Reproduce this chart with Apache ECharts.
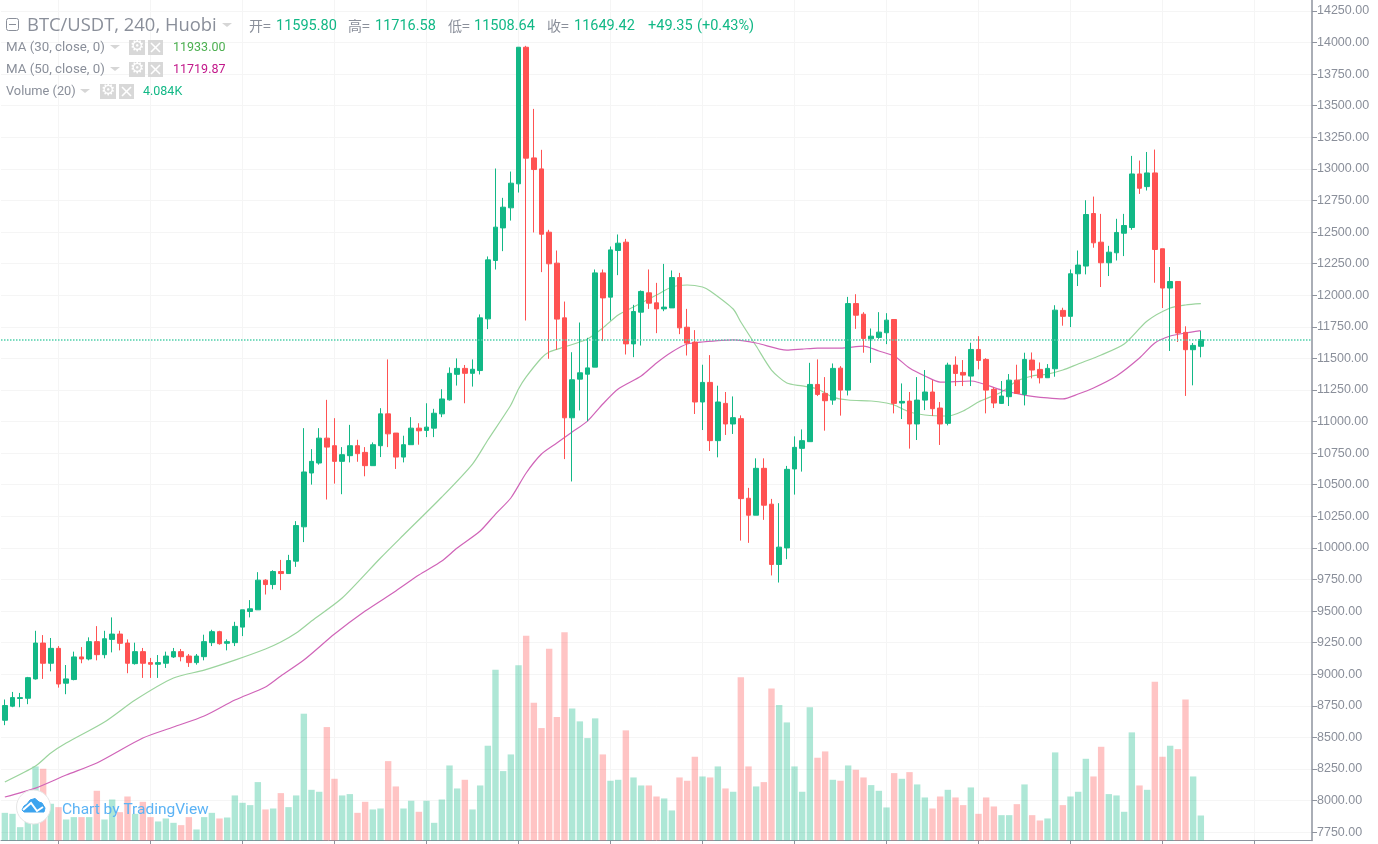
<!DOCTYPE html>
<html>
<head>
<meta charset="utf-8">
<title>BTC/USDT</title>
<script src="https://cdn.jsdelivr.net/npm/echarts@6/dist/echarts.min.js"></script>
<style>
  html, body { margin: 0; padding: 0; background: #fff; overflow: hidden; }
  #main { width: 1378px; height: 844px; }
</style>
</head>
<body>
<div id="main"></div>
<script>
// 4h candles
const opens = [
  8636,8747,8808,8810,8963,9247,9087,9205,8929,8958,
  9137,9121,9258,9155,9276,9318,9247,9084,9179,9092,
  9079,9087,9137,9179,9144,9092,9139,9250,9337,9245,
  9250,9373,9497,9510,9745,9710,9813,9797,9895,10167,
  10593,10672,10869,10809,10685,10730,10809,10756,10651,10809,
  11061,10909,10719,10817,10948,10930,10948,11061,11172,11374,
  11421,11382,11404,11813,12275,12533,12692,12882,13963,13087,
  13000,12499,12254,11821,11030,11336,11375,11431,12177,11985,
  12354,12420,11615,11866,12019,11940,11892,11900,12140,11747,
  11629,11155,11310,10849,11144,10981,11023,10393,10259,10630,
  10346,9869,10000,10625,10788,10841,11294,11223,11170,11423,
  11249,11934,11850,11655,11666,11703,11808,11147,11162,10981,
  11170,11234,11107,10986,11447,11389,11360,11571,11492,11255,
  11144,11197,11328,11215,11487,11413,11347,11418,11880,11833,
  12170,12231,12647,12420,12257,12336,12491,12536,12960,12860,
  12968,12368,12057,12109,11706,11569,11595.80
];
const closes = [
  8752,8815,8815,8973,9247,9087,9205,8923,8963,9137,
  9121,9258,9155,9281,9318,9245,9087,9179,9087,9079,
  9092,9144,9179,9139,9092,9144,9258,9337,9242,9258,
  9379,9510,9518,9745,9710,9813,9797,9900,10177,10601,
  10685,10869,10798,10685,10738,10809,10746,10651,10817,11061,
  10903,10719,10817,10948,10927,10956,11066,11179,11382,11421,
  11382,11414,11821,12280,12539,12697,12887,13963,13085,12995,
  12483,12249,11811,11030,11331,11386,11425,12177,11979,12359,
  12412,11615,11871,12030,11937,11892,11906,12140,11742,11621,
  11155,11310,10849,11155,10981,11031,10390,10259,10630,10338,
  9869,10006,10622,10796,10849,11294,11215,11165,11421,11249,
  11934,11842,11658,11676,11708,11803,11144,11160,10981,11170,
  11234,11102,10981,11447,11381,11368,11571,11484,11249,11147,
  11202,11328,11223,11492,11408,11347,11421,11882,11833,12170,
  12239,12639,12415,12257,12341,12497,12552,12960,12847,12968,
  12362,12057,12109,11701,11569,11603,11649.42
];
const lows = [
  8597,8739,8739,8763,8958,8963,9023,8894,8842,8952,
  9087,9110,9110,9126,9173,9189,9008,9076,8971,8971,
  8971,9050,9129,9102,9058,9076,9110,9223,9234,9189,
  9223,9302,9450,9510,9631,9673,9666,9797,9850,10046,
  10501,10659,10383,10509,10425,10677,10682,10567,10651,10719,
  10798,10625,10677,10817,10817,10877,10877,11035,11166,11285,
  11145,11277,11373,11732,12204,12349,12591,12813,11800,12497,
  12183,11497,11568,10703,10526,11088,11003,11431,11637,11800,
  12159,11531,11510,11602,11892,11700,11874,11900,11692,11523,
  11060,10933,10767,10717,10894,10902,10058,10040,10259,10222,
  9782,9726,9911,10422,10604,10841,11202,10928,11133,11047,
  11207,11734,11545,11465,11655,11613,11065,11020,10786,10854,
  11091,11044,10815,10970,11281,11281,11281,11413,11065,11107,
  11139,11123,11218,11128,11342,11302,11347,11355,11759,11748,
  12073,12165,12376,12065,12152,12275,12310,12518,12802,12829,
  12099,11899,11559,11630,11203,11287,11508.64
];
const highs = [
  8800,8860,8852,8979,9344,9310,9287,9223,9073,9179,
  9215,9292,9381,9344,9450,9344,9276,9250,9208,9129,
  9152,9179,9208,9200,9160,9160,9313,9352,9344,9276,
  9415,9510,9587,9808,9752,9823,9905,9945,10212,10948,
  10782,10948,11172,11027,10798,10974,10856,10798,10835,11106,
  11492,10909,10888,11035,10987,11145,11101,11256,11429,11500,
  11448,11492,11848,12307,13003,12771,12979,13963,13974,13475,
  13151,12518,12354,11950,11549,11784,11663,12204,12204,12386,
  12481,12446,11924,12038,12204,12098,12248,12196,12177,11892,
  11724,11450,11526,11284,11234,11199,11049,10475,10709,10709,
  10388,10354,10649,10883,10938,11465,11492,11352,11460,11439,
  11987,12008,11866,11737,11866,11858,11808,11302,11234,11352,
  11408,11328,11155,11466,11516,11487,11624,11676,11502,11271,
  11321,11376,11450,11545,11547,11468,11455,11921,11901,12204,
  12354,12752,12781,12644,12391,12605,12644,13103,13066,13134,
  13153,12368,12223,12109,11754,11622,11716.58
];
// volume in K
const volumes = [
  4.52,4.36,2.18,5.99,12.10,11.72,6.00,5.45,3.43,3.82,
  3.82,3.82,8.12,3.43,6.70,4.63,7.19,4.36,6.32,3.82,
  3.11,3.60,2.89,2.51,3.82,1.80,3.82,4.52,3.60,3.76,
  7.36,6.16,5.78,9.54,5.07,5.23,7.74,5.45,7.36,20.71,
  8.28,7.96,18.53,10.08,7.36,7.58,4.52,6.32,5.07,5.23,
  12.97,8.83,5.23,6.49,4.69,6.49,2.89,6.70,12.26,8.50,
  9.92,5.07,8.99,15.48,27.90,11.34,14.06,28.61,33.46,22.51,
  18.37,31.34,20.17,34.01,21.58,19.46,16.73,19.95,14.06,9.76,
  9.92,17.99,10.30,8.99,8.99,7.19,6.87,4.91,10.30,9.76,
  13.68,10.46,10.30,12.10,8.50,7.96,26.65,12.10,8.83,9.54,
  24.85,22.13,19.29,12.10,7.96,21.75,13.52,14.55,9.92,9.76,
  12.26,11.55,10.30,9.05,8.12,5.40,11.01,10.08,11.17,9.16,
  7.03,5.23,7.19,8.28,7.03,5.78,8.67,4.36,7.03,5.56,
  4.14,4.14,5.94,9.16,4.14,3.27,3.60,14.39,5.78,7.19,
  7.96,13.35,10.46,15.31,7.58,7.36,4.69,17.66,8.99,8.28,
  25.94,13.68,15.48,14.93,23.05,10.46,4.084
];
// moving averages, sampled by eye at these candle indexes
const ma30Idx = [0,4,6,8,13,17,22,26,30,34,36,38,40,44,49,52,57,61,63,66,67,68,70,71,73,76,78,80,82,85,87,89,91,92,95,96,98,100,102,104,106,108,110,113,115,116,118,120,123,125,127,130,132,134,136,138,140,143,146,149,152,154,156];
const ma30 = [8147,8273,8376,8455,8622,8796,8970,9033,9112,9200,9255,9326,9421,9603,9920,10102,10403,10664,10854,11131,11258,11353,11503,11551,11590,11654,11741,11844,11907,12002,12065,12081,12065,12034,11891,11788,11598,11408,11305,11282,11258,11194,11171,11163,11147,11131,11076,11052,11044,11084,11155,11234,11321,11361,11376,11408,11456,11527,11614,11796,11899,11923,11933];
const ma50Idx = [0,4,8,12,18,22,26,30,34,36,39,43,47,51,54,57,59,62,64,66,68,70,72,74,76,78,80,83,85,87,89,91,95,98,102,104,106,109,112,114,116,118,120,122,126,130,133,136,138,140,142,145,148,150,152,154,156];
const ma50 = [8028,8099,8202,8297,8495,8582,8669,8796,8899,8986,9112,9318,9500,9659,9785,9896,9999,10134,10268,10395,10593,10743,10830,10917,11004,11139,11258,11361,11464,11551,11614,11630,11646,11622,11566,11574,11582,11582,11598,11559,11519,11424,11361,11313,11321,11250,11210,11187,11179,11218,11266,11361,11503,11622,11677,11701,11719.87];
const priceTicks = [7750,8000,8250,8500,8750,9000,9250,9500,9750,10000,10250,10500,10750,11000,11250,11500,11750,12000,12250,12500,12750,13000,13250,13500,13750,14000,14250];
const lastPrice = 11649.42;
const futureBars = 14; // empty room to the right of the last candle

const GREEN = '#12b886';
const RED = '#ff5252';
const GREY = '#8a8f9a';

const categories = [];
for (let i = 0; i < opens.length + futureBars; i++) categories.push(String(i));

const candleData = opens.map((o, i) => [o, closes[i], lows[i], highs[i]]);
const volumeData = volumes.map((v, i) => ({
  value: v,
  itemStyle: { color: closes[i] >= opens[i] ? GREEN : RED, opacity: 0.34 }
}));
const everyTwelve = (idx) => (idx - 7) % 12 === 0;

// text helper for the header and the watermark
const txt = (x, y, text, font, fill) => ({
  type: 'text', x: x, y: y, z: 100, silent: true,
  style: { text: text, font: font, fill: fill, textVerticalAlign: 'middle' }
});
const arrow = (x, y) => ({
  type: 'polygon', z: 100, silent: true,
  shape: { points: [[x, y], [x + 10, y], [x + 5, y + 4]] },
  style: { fill: '#d6d6d6' }
});
// grey gear + close boxes
const iconBoxes = (x, y) => [
  { type: 'rect', z: 100, silent: true, shape: { x: x, y: y - 7, width: 16, height: 15 }, style: { fill: '#d8d8d8' } },
  txt(x + 1, y, '\u2699', '16px "DejaVu Sans"', '#fff'),
  { type: 'rect', z: 100, silent: true, shape: { x: x + 19, y: y - 7, width: 15, height: 15 }, style: { fill: '#d8d8d8' } },
  { type: 'line', z: 101, silent: true, shape: { x1: x + 22, y1: y - 4, x2: x + 31, y2: y + 5 }, style: { stroke: '#fff', lineWidth: 1.6 } },
  { type: 'line', z: 101, silent: true, shape: { x1: x + 31, y1: y - 4, x2: x + 22, y2: y + 5 }, style: { stroke: '#fff', lineWidth: 1.6 } }
];

const TITLE = '18.4px "Open Sans"';
const NUM = '14.5px Roboto';
const CJK = '14px "Noto Sans CJK SC"';
const SMALL = '13.3px Roboto';
const VALUE = '12.5px Roboto';
const header = [
  { type: 'rect', z: 100, silent: true, shape: { x: 6.5, y: 18.5, width: 12, height: 12, r: 2 }, style: { fill: '#fff', stroke: '#8a8f9a', lineWidth: 1 } },
  { type: 'line', z: 101, silent: true, shape: { x1: 9, y1: 24.5, x2: 16, y2: 24.5 }, style: { stroke: '#8a8f9a', lineWidth: 1 } },
  txt(27, 26, 'BTC/USDT, 240, Huobi', TITLE, GREY),
  arrow(222, 23),
  txt(249, 26, '开=', CJK, GREY),
  txt(276, 26.5, '11595.80', NUM, GREEN),
  txt(348, 26, '高=', CJK, GREY),
  txt(375, 26.5, '11716.58', NUM, GREEN),
  txt(448, 26, '低=', CJK, GREY),
  txt(474, 26.5, '11508.64', NUM, GREEN),
  txt(547, 26, '收=', CJK, GREY),
  txt(574, 26.5, '11649.42', NUM, GREEN),
  txt(648, 26.5, '+49.35', NUM, GREEN),
  txt(697, 26.5, '(+0.43%)', NUM, GREEN),
  txt(6, 48, 'MA (30, close, 0)', SMALL, GREY),
  arrow(110, 45),
  ...iconBoxes(129, 47),
  txt(173, 48, '11933.00', VALUE, '#4caf50'),
  txt(6, 70, 'MA (50, close, 0)', SMALL, GREY),
  arrow(110, 67),
  ...iconBoxes(129, 69),
  txt(173, 70, '11719.87', VALUE, '#c2188a'),
  txt(6, 92, 'Volume (20)', '12.8px Roboto', GREY),
  arrow(80, 89),
  ...iconBoxes(100, 91),
  txt(143, 92, '4.084K', VALUE, GREEN)
];
const logo = [
  { type: 'circle', z: 100, silent: true, shape: { cx: 33.5, cy: 807, r: 17 }, style: { fill: '#fff', stroke: '#e6e6e6', lineWidth: 1 } },
  { type: 'polygon', z: 101, silent: true, shape: { points: [[22, 810], [24, 806], [27, 804], [30, 800], [35, 798.5], [39, 802], [42, 803], [45, 808], [44, 812], [24, 812]] }, style: { fill: '#3ca3ee', stroke: '#3ca3ee', lineJoin: 'round' } },
  { type: 'polyline', z: 102, silent: true, shape: { points: [[23, 810], [31, 803], [37, 811], [43, 807]] }, style: { stroke: '#fff', lineWidth: 2, fill: 'none' } },
  txt(62, 810, 'Chart by TradingView', '15.5px Roboto', '#5cb3f5')
];

const chart = echarts.init(document.getElementById('main'));
chart.setOption({
  animation: false,
  backgroundColor: '#fff',
  grid: { left: 1, right: 66, top: 0, bottom: 3.5 },
  xAxis: {
    type: 'category',
    data: categories,
    boundaryGap: true,
    axisLine: { lineStyle: { color: '#8e939e', width: 1 } },
    axisLabel: { show: false },
    axisTick: { show: true, interval: everyTwelve, alignWithLabel: true, length: 4, lineStyle: { color: '#8e939e' } },
    splitLine: { show: true, interval: everyTwelve, alignWithLabel: true, lineStyle: { color: '#f5f5f5', width: 1 } }
  },
  yAxis: [
    {
      type: 'value',
      position: 'right',
      min: 7684,
      max: 14337,
      axisLine: { show: true, lineStyle: { color: '#8e939e', width: 1.5 } },
      axisTick: { show: true, length: 5, customValues: priceTicks, lineStyle: { color: '#8e939e' } },
      axisLabel: {
        customValues: priceTicks,
        formatter: (v) => v.toFixed(2),
        color: GREY,
        margin: 5,
        padding: [2, 0, 0, 0],
        fontFamily: 'Liberation Sans',
        fontSize: 12.5
      },
      splitLine: { show: true, lineStyle: { color: '#f5f5f5', width: 1 } }
    },
    { type: 'value', show: false, min: 0, max: 137.3, splitLine: { show: false } }
  ],
  series: [
    { type: 'bar', name: 'Volume', yAxisIndex: 1, data: volumeData, barWidth: 6.4, z: 1 },
    {
      type: 'candlestick',
      name: 'BTC/USDT',
      data: candleData,
      barWidth: 5,
      z: 3,
      itemStyle: { color: GREEN, color0: RED, borderColor: GREEN, borderColor0: RED, borderWidth: 1 }
    },
    {
      type: 'line', name: 'MA 30', data: ma30Idx.map((i, k) => [i, ma30[k]]),
      showSymbol: false, smooth: 0.25, z: 2,
      lineStyle: { color: '#9bd49d', width: 1.2 }
    },
    {
      type: 'line', name: 'MA 50', data: ma50Idx.map((i, k) => [i, ma50[k]]),
      showSymbol: false, smooth: 0.25, z: 2,
      lineStyle: { color: '#d064b8', width: 1.2 }
    },
    {
      // last price marker
      type: 'line', name: 'Last', data: [], z: 2,
      markLine: {
        silent: true,
        symbol: 'none',
        label: { show: false },
        data: [{ yAxis: lastPrice, lineStyle: { type: [1.5, 1.5], color: '#4fd0aa', width: 1.6, opacity: 1 } }]
      }
    }
  ],
  graphic: { elements: header.concat(logo) }
});
</script>
</body>
</html>
